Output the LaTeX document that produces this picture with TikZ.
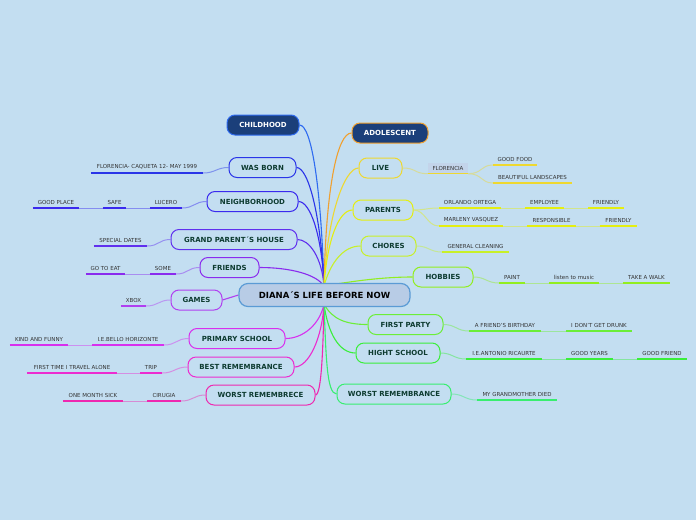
\documentclass[tikz,border=0pt]{standalone}
\usepackage{fontspec}
\setmainfont{DejaVu Sans}
\definecolor{bg}{HTML}{C3DEF1}
\definecolor{navy}{HTML}{1B3F7A}
\definecolor{btxt}{HTML}{0D3B30}
\definecolor{ltxt}{HTML}{333333}
\definecolor{cfill}{HTML}{B8CCE6}
\definecolor{cbord}{HTML}{5B9BD5}
\definecolor{cCH}{HTML}{2F6BF0}
\definecolor{cWB}{HTML}{2A35E8}
\definecolor{cNB}{HTML}{3A2AEE}
\definecolor{cGP}{HTML}{6030EE}
\definecolor{cFR}{HTML}{8A2BEE}
\definecolor{cGA}{HTML}{B040F0}
\definecolor{cPS}{HTML}{D830EE}
\definecolor{cBR}{HTML}{EC2CD0}
\definecolor{cWR}{HTML}{EE28B0}
\definecolor{cAD}{HTML}{F0A030}
\definecolor{cLI}{HTML}{EED830}
\definecolor{cPA}{HTML}{E4EE10}
\definecolor{cCHO}{HTML}{C8F028}
\definecolor{cHO}{HTML}{92EE20}
\definecolor{cFP}{HTML}{6CEE38}
\definecolor{cHS}{HTML}{3AEE3A}
\definecolor{cWRR}{HTML}{38EE70}
\pgfdeclarelayer{back}
\pgfsetlayers{back,main}
\tikzset{
  br/.style={draw=#1, rounded corners=8pt, line width=1pt, fill=bg, text=btxt,
    font=\fontsize{7}{8}\selectfont\bfseries, minimum height=20pt, inner sep=0pt},
  navybox/.style={fill=navy, text=white},
  leaf/.style={inner sep=0pt, minimum height=11pt, anchor=south, text=ltxt,
    font=\fontsize{5.5}{6}\selectfont},
  ul/.style={draw=#1, line width=1.5pt},
  lk/.style={draw=#1!45!bg, line width=1pt},
  hub/.style={draw=#1, line width=1.1pt},
}
\begin{document}
\begin{tikzpicture}[x=1pt,y=-1pt]
\begin{pgfonlayer}{back}
\fill[bg] (0,0) rectangle (696,520);
\end{pgfonlayer}
\useasboundingbox (0,0) rectangle (696,520);

% centre
\node[draw=cbord, fill=cfill, line width=1.2pt, rounded corners=9pt, minimum width=171pt,
  minimum height=23pt, inner sep=0pt, font=\fontsize{8.5}{9}\selectfont\bfseries]
  (ce) at (324.5,295) {DIANA´S LIFE BEFORE NOW};
\coordinate (hT) at (324,286);
\coordinate (hB) at (324,304);

% left branches
\node[br=cCH, navybox, minimum width=72pt] (ch) at (263,125) {CHILDHOOD};
\node[br=cWB, minimum width=67pt] (wb) at (262.5,167.5) {WAS BORN};
\node[br=cNB, minimum width=91pt] (nb) at (252.5,201.5) {NEIGHBORHOOD};
\node[br=cGP, minimum width=126pt] (gp) at (234,239.5) {GRAND PARENT´S HOUSE};
\node[br=cFR, minimum width=59pt] (fr) at (229.5,267.5) {FRIENDS};
\node[br=cGA, minimum width=51pt] (ga) at (196.5,300) {GAMES};
\node[br=cPS, minimum width=96pt] (ps) at (237,338.5) {PRIMARY SCHOOL};
\node[br=cBR, minimum width=106pt] (bre) at (241,367) {BEST REMEMBRANCE};
\node[br=cWR, minimum width=109pt] (wr) at (260.5,395) {WORST REMEMBRECE};

% right branches
\node[br=cAD, navybox, minimum width=76pt] (ad) at (390,133) {ADOLESCENT};
\node[br=cLI, minimum width=43pt] (li) at (380.5,168) {LIVE};
\node[br=cPA, minimum width=60pt] (pa) at (383,210) {PARENTS};
\node[br=cCHO, minimum width=55pt] (cho) at (388.5,246) {CHORES};
\node[br=cHO, minimum width=60pt] (ho) at (443,277) {HOBBIES};
\node[br=cFP, minimum width=75pt] (fp) at (405.5,324.5) {FIRST PARTY};
\node[br=cHS, minimum width=84pt] (hs) at (398,353) {HIGHT SCHOOL};
\node[br=cWRR, minimum width=114pt] (wrr) at (394,394) {WORST REMEMBRANCE};

% left leaves
\node[leaf, minimum width=112pt] (b1) at (147,173) {FLORENCIA- CAQUETA 12- MAY 1999};
\node[leaf, minimum width=32pt] (n1) at (166,208) {LUCERO};
\node[leaf, minimum width=23pt] (n2) at (114.5,208) {SAFE};
\node[leaf, minimum width=46pt] (n3) at (56,208) {GOOD PLACE};
\node[leaf, minimum width=53pt] (g1) at (120.5,246) {SPECIAL DATES};
\node[leaf, minimum width=26pt] (f1) at (163,274) {SOME};
\node[leaf, minimum width=39pt] (f2) at (105.5,274) {GO TO EAT};
\node[leaf, minimum width=25pt] (x1) at (133.5,306) {XBOX};
\node[leaf, minimum width=72pt] (p1) at (128,345) {I.E.BELLO HORIZONTE};
\node[leaf, minimum width=58pt] (p2) at (39,345) {KIND AND FUNNY};
\node[leaf, minimum width=22pt] (t1) at (151,373) {TRIP};
\node[leaf, minimum width=90pt] (t2) at (72,373) {FIRST TIME I TRAVEL ALONE};
\node[leaf, minimum width=34pt] (c1) at (164,401) {CIRUGIA};
\node[leaf, minimum width=60pt] (c2) at (93,401) {ONE MONTH SICK};

% right leaves
\node[fill=cfill!85!white, inner sep=0pt, minimum width=40pt, minimum height=11pt, text=ltxt,
  font=\fontsize{5.5}{6}\selectfont] (flo) at (448,168) {FLORENCIA};
\node[leaf, minimum width=44pt] (gf) at (515,165) {GOOD FOOD};
\node[leaf, minimum width=79pt] (bl) at (532.5,183) {BEAUTIFUL LANDSCAPES};
\node[leaf, minimum width=62pt] (pl1) at (470,208) {ORLANDO ORTEGA};
\node[leaf, minimum width=39pt] (pl2) at (544.5,208) {EMPLOYEE};
\node[leaf, minimum width=36pt] (pl3) at (606,208) {FRIENDLY};
\node[leaf, minimum width=64pt] (pm1) at (471,226) {MARLENY VASQUEZ};
\node[leaf, minimum width=49pt] (pm2) at (551.5,226) {RESPONSIBLE};
\node[leaf, minimum width=37pt] (pm3) at (618.5,226) {FRIENDLY};
\node[leaf, minimum width=67pt] (gc) at (475.5,252) {GENERAL CLEANING};
\node[leaf, minimum width=26pt] (hb1) at (512,283) {PAINT};
\node[leaf, minimum width=50pt] (hb2) at (574,283) {listen to music};
\node[leaf, minimum width=47pt] (hb3) at (646.5,283) {TAKE A WALK};
\node[leaf, minimum width=72pt] (fp1) at (505,331) {A FRIEND'S BIRTHDAY};
\node[leaf, minimum width=66pt] (fp2) at (599,331) {I DON'T GET DRUNK};
\node[leaf, minimum width=76pt] (hs1) at (504,359) {I.E.ANTONIO RICAURTE};
\node[leaf, minimum width=47pt] (hs2) at (589.5,359) {GOOD YEARS};
\node[leaf, minimum width=50pt] (hs3) at (662,359) {GOOD FRIEND};
\node[leaf, minimum width=80pt] (gm) at (517,400) {MY GRANDMOTHER DIED};

\begin{pgfonlayer}{back}
% hub connectors, left
\draw[hub=cCH] (ch.east) .. controls +(12,0) and +(-3,-100) .. (hT);
\draw[hub=cWB] (wb.east) .. controls +(12,0) and +(-3,-70) .. (hT);
\draw[hub=cNB] (nb.east) .. controls +(12,0) and +(-2,-50) .. (hT);
\draw[hub=cGP] (gp.east) .. controls +(12,0) and +(-2,-28) .. (hT);
\draw[hub=cFR] (fr.east) .. controls +(30,0) and +(-8,-12) .. (hT);
\draw[hub=cGA] (ga.east) -- (ce.west);
\draw[hub=cPS] (ps.east) .. controls +(18,0) and +(-4,20) .. (hB);
\draw[hub=cBR] (bre.east) .. controls +(14,0) and +(-2,35) .. (hB);
\draw[hub=cWR] (wr.east) .. controls +(6,0) and +(-1,45) .. (hB);
% hub connectors, right
\draw[hub=cAD] (hT) .. controls +(2,-100) and +(-14,0) .. (ad.west);
\draw[hub=cLI] (hT) .. controls +(3,-70) and +(-14,0) .. (li.west);
\draw[hub=cPA] (hT) .. controls +(3,-45) and +(-14,0) .. (pa.west);
\draw[hub=cCHO] (hT) .. controls +(6,-22) and +(-18,0) .. (cho.west);
\draw[hub=cHO] (hT) .. controls +(30,-5) and +(-30,0) .. (ho.west);
\draw[hub=cFP] (hB) .. controls +(8,15) and +(-22,0) .. (fp.west);
\draw[hub=cHS] (hB) .. controls +(4,30) and +(-16,0) .. (hs.west);
\draw[hub=cWRR] (hB) .. controls +(2,50) and +(-10,0) .. (wrr.west);

% leaf links, left
\draw[lk=cWB] (wb.west) .. controls +(-12,0) and +(12,0) .. (b1.south east);
\draw[lk=cNB] (nb.west) .. controls +(-12,0) and +(12,0) .. (n1.south east);
\draw[lk=cNB] (n1.south west) -- (n2.south east);
\draw[lk=cNB] (n2.south west) -- (n3.south east);
\draw[lk=cGP] (gp.west) .. controls +(-12,0) and +(12,0) .. (g1.south east);
\draw[lk=cFR] (fr.west) .. controls +(-12,0) and +(12,0) .. (f1.south east);
\draw[lk=cFR] (f1.south west) -- (f2.south east);
\draw[lk=cGA] (ga.west) .. controls +(-12,0) and +(12,0) .. (x1.south east);
\draw[lk=cPS] (ps.west) .. controls +(-12,0) and +(12,0) .. (p1.south east);
\draw[lk=cPS] (p1.south west) -- (p2.south east);
\draw[lk=cBR] (bre.west) .. controls +(-12,0) and +(12,0) .. (t1.south east);
\draw[lk=cBR] (t1.south west) -- (t2.south east);
\draw[lk=cWR] (wr.west) .. controls +(-12,0) and +(12,0) .. (c1.south east);
\draw[lk=cWR] (c1.south west) -- (c2.south east);
% leaf links, right
\draw[lk=cLI] (li.east) .. controls +(14,0) and +(-14,0) .. (flo.south west);
\draw[lk=cLI] (flo.south east) .. controls +(14,0) and +(-12,0) .. (gf.south west);
\draw[lk=cLI] (flo.south east) .. controls +(14,0) and +(-12,0) .. (bl.south west);
\draw[lk=cPA] (pa.east) .. controls +(12,0) and +(-12,0) .. (pl1.south west);
\draw[lk=cPA] (pa.east) .. controls +(12,0) and +(-12,0) .. (pm1.south west);
\draw[lk=cPA] (pl1.south east) -- (pl2.south west);
\draw[lk=cPA] (pl2.south east) -- (pl3.south west);
\draw[lk=cPA] (pm1.south east) -- (pm2.south west);
\draw[lk=cPA] (pm2.south east) -- (pm3.south west);
\draw[lk=cCHO] (cho.east) .. controls +(12,0) and +(-12,0) .. (gc.south west);
\draw[lk=cHO] (ho.east) .. controls +(12,0) and +(-12,0) .. (hb1.south west);
\draw[lk=cHO] (hb1.south east) -- (hb2.south west);
\draw[lk=cHO] (hb2.south east) -- (hb3.south west);
\draw[lk=cFP] (fp.east) .. controls +(12,0) and +(-12,0) .. (fp1.south west);
\draw[lk=cFP] (fp1.south east) -- (fp2.south west);
\draw[lk=cHS] (hs.east) .. controls +(12,0) and +(-12,0) .. (hs1.south west);
\draw[lk=cHS] (hs1.south east) -- (hs2.south west);
\draw[lk=cHS] (hs2.south east) -- (hs3.south west);
\draw[lk=cWRR] (wrr.east) .. controls +(12,0) and +(-12,0) .. (gm.south west);
\end{pgfonlayer}

% underlines
\draw[ul=cWB] (b1.south west) -- (b1.south east);
\draw[ul=cNB] (n1.south west) -- (n1.south east) (n2.south west) -- (n2.south east)
  (n3.south west) -- (n3.south east);
\draw[ul=cGP] (g1.south west) -- (g1.south east);
\draw[ul=cFR] (f1.south west) -- (f1.south east) (f2.south west) -- (f2.south east);
\draw[ul=cGA] (x1.south west) -- (x1.south east);
\draw[ul=cPS] (p1.south west) -- (p1.south east) (p2.south west) -- (p2.south east);
\draw[ul=cBR] (t1.south west) -- (t1.south east) (t2.south west) -- (t2.south east);
\draw[ul=cWR] (c1.south west) -- (c1.south east) (c2.south west) -- (c2.south east);
\draw[draw=cLI, line width=1pt] (flo.south west) -- (flo.south east);
\draw[ul=cLI] (gf.south west) -- (gf.south east) (bl.south west) -- (bl.south east);
\draw[ul=cPA] (pl1.south west) -- (pl1.south east) (pl2.south west) -- (pl2.south east)
  (pl3.south west) -- (pl3.south east) (pm1.south west) -- (pm1.south east)
  (pm2.south west) -- (pm2.south east) (pm3.south west) -- (pm3.south east);
\draw[ul=cCHO] (gc.south west) -- (gc.south east);
\draw[ul=cHO] (hb1.south west) -- (hb1.south east) (hb2.south west) -- (hb2.south east)
  (hb3.south west) -- (hb3.south east);
\draw[ul=cFP] (fp1.south west) -- (fp1.south east) (fp2.south west) -- (fp2.south east);
\draw[ul=cHS] (hs1.south west) -- (hs1.south east) (hs2.south west) -- (hs2.south east)
  (hs3.south west) -- (hs3.south east);
\draw[ul=cWRR] (gm.south west) -- (gm.south east);
\end{tikzpicture}
\end{document}
